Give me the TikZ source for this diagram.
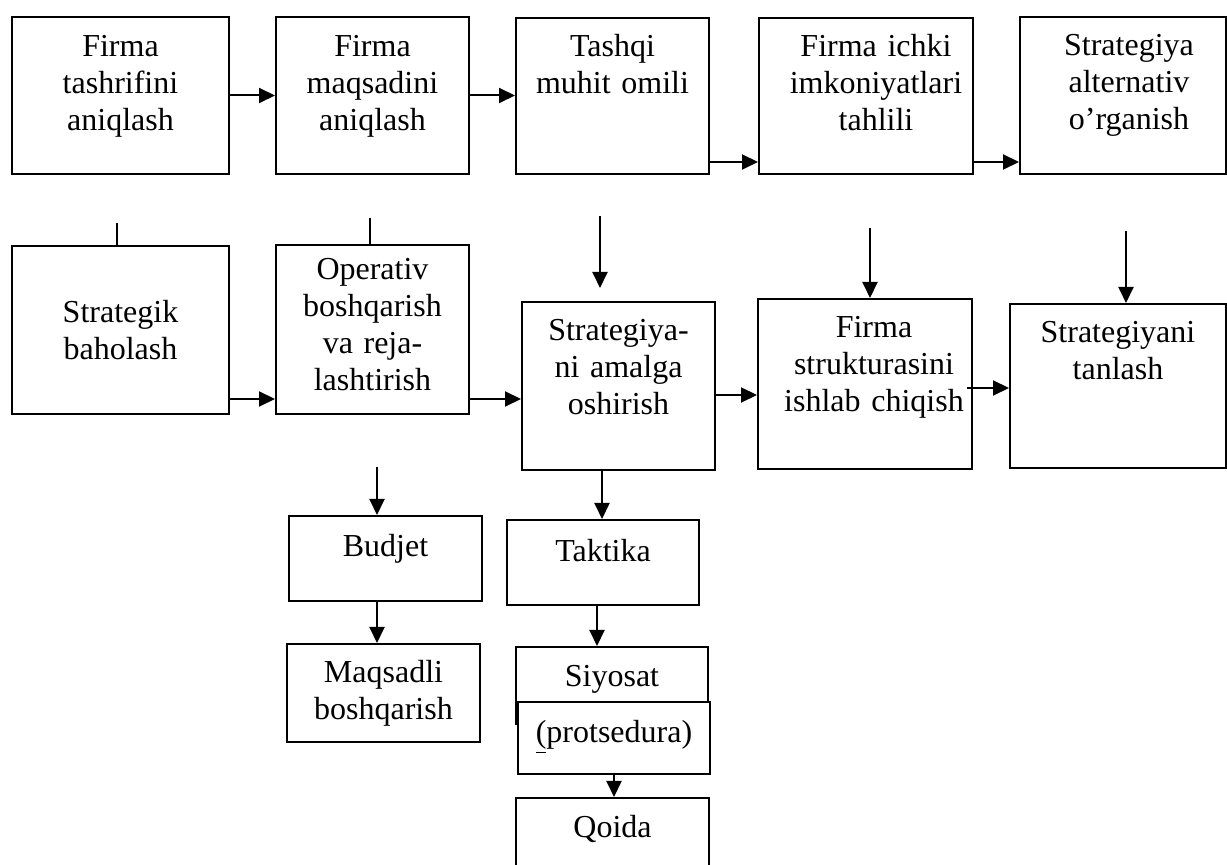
\documentclass[tikz,border=0pt]{standalone}
\usepackage{fontspec}
\setmainfont{Liberation Serif}
\usetikzlibrary{calc,positioning,arrows.meta}

\begin{document}
\begin{tikzpicture}[x=0.5pt,y=-0.5pt,
block/.style = {rectangle, draw, line width=1pt, fill=white, inner sep=0pt,
	anchor=north west, align=center, font=\fontsize{16pt}{18.5pt}\selectfont},
line/.style ={draw, line width=1pt, -{Triangle[length=8pt,width=7.5pt]}},
stub/.style ={draw, line width=1pt}]

\path[use as bounding box, clip] (0,0) rectangle (1227,865);

\node [block, text width=108.5pt, text height=20pt, text depth=58.5pt] (tashrif) at (11,16) {Firma\\ tashrifini\\ aniqlash};
\node [block, text width=96.5pt, text height=20pt, text depth=58.5pt] (maqsad) at (275,16) {Firma\\ maqsadini\\ aniqlash};
\node [block, text width=96.5pt, text height=19.5pt, text depth=58.5pt] (tashqi) at (515,17) {Tashqi\\ muhit omili};
\node [block, text width=107pt, text height=19.5pt, text depth=58.5pt] (ichki) at (758,17) {\hspace*{10pt}Firma ichki\\ \hspace*{10pt}imkoniyatlari\\ \hspace*{10pt}tahlili};
\node [block, text width=103pt, text height=19.5pt, text depth=59pt] (alternativ) at (1019,16) {\hspace*{6pt}Strategiya\\ \hspace*{6pt}alternativ\\ \hspace*{6pt}o’rganish};

\node [block, text width=108.5pt, text height=38.5pt, text depth=45.5pt] (baholash) at (11,245) {Strategik\\ baholash};
\node [block, text width=96.5pt, text height=17.5pt, text depth=67pt] (operativ) at (275,244) {Operativ\\ boshqarish\\ va reja-\\ lashtirish};
\node [block, text width=96.5pt, text height=19.5pt, text depth=64.5pt] (amalga) at (521,301) {Strategiya-\\ ni amalga\\ oshirish};
\node [block, text width=107pt, text height=19.5pt, text depth=65.5pt] (struktura) at (757,298) {\hspace*{9pt}Firma\\ \hspace*{9pt}strukturasini\\ \hspace*{9pt}ishlab chiqish};
\node [block, text width=108pt, text height=19.5pt, text depth=62.5pt] (tanlash) at (1009,303) {Strategiyani\\ tanlash};

\node [block, text width=96.5pt, text height=20.5pt, text depth=22pt] (budjet) at (288,515) {Budjet};
\node [block, text width=96pt, text height=21pt, text depth=21.5pt] (taktika) at (506,519) {Taktika};
\node [block, text width=96.5pt, text height=19.5pt, text depth=29.5pt] (maqsadli) at (286,643) {Maqsadli\\ boshqarish};
\node [block, text width=96pt, text height=20pt, text depth=18.5pt] (siyosat) at (515,646) {Siyosat};
\node [block, text width=96pt, text height=20.5pt, text depth=15.5pt] (protsedura) at (517,701) {\underline{(}protsedura)};
\node [block, text width=96.5pt, text height=20pt, text depth=32pt] (qoida) at (515,797) {Qoida};

\coordinate (o1) at ([yshift=8pt]operativ.south east);
\coordinate (a1) at ([yshift=-4.5pt]amalga.east);
\coordinate (s1) at ([xshift=-3pt,yshift=-2pt]struktura.east);
\coordinate (t1) at ([xshift=-9.25pt,yshift=42.5pt]amalga.north);
\coordinate (t2) at ([xshift=-9.25pt,yshift=6.5pt]amalga.north);
\coordinate (t3) at ([xshift=2.5pt,yshift=35pt]struktura.north);
\coordinate (t4) at ([xshift=4pt,yshift=36pt]tanlash.north);
\coordinate (h1) at ([xshift=-1.75pt,yshift=11pt]baholash.north);
\coordinate (h2) at ([xshift=-1.25pt,yshift=13pt]operativ.north);
\coordinate (u1) at ([xshift=-4.25pt,yshift=24pt]budjet.north);
\coordinate (u2) at ([xshift=-4.25pt]budjet.south);
\coordinate (v1) at ([xshift=-8.25pt]amalga.south);
\coordinate (v2) at ([xshift=-3pt]taktika.south);

\begin{scope}[every path/.style=line]
\path (tashrif) -- (maqsad);
\path (maqsad) -- (maqsad -| tashqi.west);
\path ([yshift=6.5pt]tashqi.south east) -- ([yshift=6.5pt]ichki.south west);
\path ([yshift=6.5pt]ichki.south east) -- ([yshift=6.5pt]alternativ.south west);
\path ([yshift=8pt]baholash.south east) -- ([yshift=8pt]operativ.south west);
\path (o1) -- (o1 -| amalga.west);
\path (a1) -- (a1 -| struktura.west);
\path (s1) -- (s1 -| tanlash.west);
\path (t1) -- (t2);
\path (t3) -- (t3 |- struktura.north);
\path (t4) -- (t4 |- tanlash.north);
\path (u1) -- (u1 |- budjet.north);
\path (u2) -- (u2 |- maqsadli.north);
\path (v1) -- (v1 |- taktika.north);
\path (v2) -- (v2 |- siyosat.north);
\path (protsedura.south) -- (protsedura.south |- qoida.north);
\end{scope}
\path [stub] (h1) -- (h1 |- baholash.north);
\path [stub] (h2) -- (h2 |- operativ.north);

\end{tikzpicture}
\end{document}
